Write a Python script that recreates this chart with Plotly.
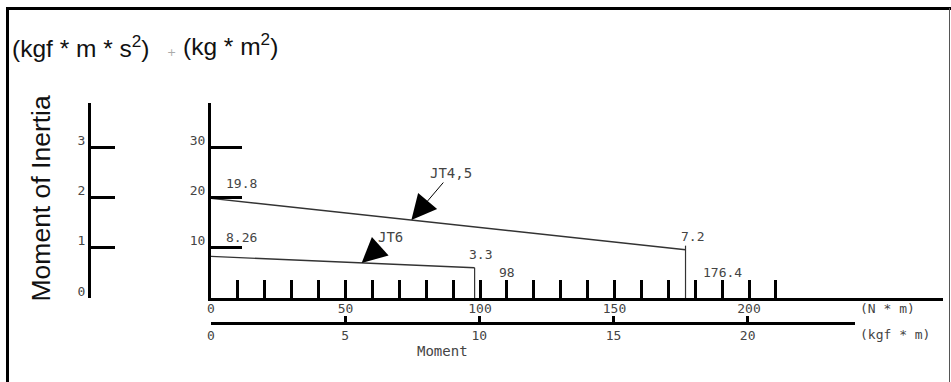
import numpy as np
import plotly.graph_objects as go

# ---------------- data ----------------
jt45_torque = [0, 176.4]          # N*m
jt45_inertia = [19.8, 9.6]        # kg*m^2 (as drawn)
jt45_labels = ["19.8", "7.2"]
jt6_torque = [0, 98]
jt6_inertia = [8.26, 6.0]
jt6_labels = ["8.26", "3.3"]
series_names = ["JT4,5", "JT6"]

nm_major_vals = [0, 50, 100, 150, 200]
nm_major_text = ["0", "50", "100", "150", "200"]
nm_minor_vals = [v for v in range(10, 220, 10) if v % 50 != 0]
kgf_major_vals = [0, 5, 10, 15, 20]
kgf_major_text = ["0", "5", "10", "15", "20"]
kgf_end = 24
si_tick_vals = [10, 20, 30]
si_tick_text = ["10", "20", "30"]
gu_tick_vals = [0, 1, 2, 3]
gu_tick_text = ["0", "1", "2", "3"]

# ---------------- layout geometry ----------------
W, H = 951, 382
L, R, T, B = 89, 8, 103, 59
PW, PH = W - L - R, H - T - B


def px_x(p):
    return (p - L) / PW


def px_y(p):
    return 1 - (p - T) / PH


XD0 = px_x(211)
XD2 = px_x(855)
YD0 = px_y(298)
X_MAX = (943 - 211) / 2.69
Y_MAX = (298 - 103) / (151 / 30)

TICKFONT = dict(family="DejaVu Sans Mono", size=13, color="#444")
LINE_C = "#333"

fig = go.Figure()

# data lines
fig.add_trace(go.Scatter(x=jt45_torque, y=jt45_inertia, mode="lines",
                         line=dict(color=LINE_C, width=1.4), cliponaxis=False,
                         name=series_names[0], hoverinfo="skip"))
fig.add_trace(go.Scatter(x=[jt45_torque[-1]] * 2, y=[0, jt45_inertia[-1] + 0.8], mode="lines",
                         line=dict(color=LINE_C, width=1.2), hoverinfo="skip"))
fig.add_trace(go.Scatter(x=jt6_torque, y=jt6_inertia, mode="lines",
                         line=dict(color=LINE_C, width=1.4), cliponaxis=False,
                         name=series_names[1], hoverinfo="skip"))
fig.add_trace(go.Scatter(x=[jt6_torque[-1]] * 2, y=[0, jt6_inertia[-1]], mode="lines",
                         line=dict(color=LINE_C, width=1.2), hoverinfo="skip"))
# helper traces to activate the secondary axes
fig.add_trace(go.Scatter(x=[0], y=[0], xaxis="x2", yaxis="y", mode="markers",
                         marker=dict(opacity=0), hoverinfo="skip"))
fig.add_trace(go.Scatter(x=[0], y=[0], xaxis="x", yaxis="y2", mode="markers",
                         marker=dict(opacity=0), hoverinfo="skip"))

axis_common = dict(showgrid=False, zeroline=False, showline=True, linecolor="black",
                   linewidth=3, ticks="inside", tickcolor="black", tickfont=TICKFONT,
                   fixedrange=True, automargin=False)

fig.update_layout(
    width=W, height=H,
    margin=dict(l=L, r=R, t=T, b=B, pad=0),
    paper_bgcolor="white", plot_bgcolor="rgba(0,0,0,0)",
    showlegend=False,
    xaxis=dict(axis_common, domain=[XD0, 1], range=[0, X_MAX], anchor="y",
               tickmode="array", tickvals=nm_major_vals, ticktext=nm_major_text,
               ticklen=18, tickwidth=3, ticklabelstandoff=-4,
               minor=dict(tickmode="array", tickvals=nm_minor_vals, ticks="inside",
                          ticklen=18, tickwidth=3, tickcolor="black")),
    xaxis2=dict(axis_common, domain=[XD0, XD2], range=[0, kgf_end], anchor="free", position=0,
                tickmode="array", tickvals=kgf_major_vals, ticktext=kgf_major_text,
                ticklen=6, tickwidth=3, ticklabelstandoff=-1,
                minor=dict(tickmode="array", tickvals=[kgf_end], ticks="inside",
                           ticklen=6, tickwidth=3, tickcolor="black")),
    yaxis=dict(axis_common, domain=[YD0, 1], range=[0, Y_MAX], anchor="x",
               tickmode="array", tickvals=si_tick_vals, ticktext=si_tick_text,
               ticklen=31, tickwidth=3, ticklabelshift=-7),
    yaxis2=dict(axis_common, range=[0, Y_MAX / 10], overlaying="y", anchor="free",
                position=0, side="left",
                tickmode="array", tickvals=gu_tick_vals, ticktext=gu_tick_text,
                ticklen=24, tickwidth=3, ticklabelshift=-7),
)

ann = []
# value labels
ann.append(dict(x=jt45_torque[0], y=jt45_inertia[0], xref="x", yref="y", text=jt45_labels[0],
                xanchor="left", xshift=13, yshift=15, showarrow=False, font=TICKFONT))
ann.append(dict(x=jt6_torque[0], y=jt6_inertia[0], xref="x", yref="y", text=jt6_labels[0],
                xanchor="left", xshift=13, yshift=19, showarrow=False, font=TICKFONT))
ann.append(dict(x=jt6_torque[-1], y=jt6_inertia[-1], xref="x", yref="y", text=jt6_labels[-1],
                xanchor="center", xshift=6, yshift=13, showarrow=False, font=TICKFONT))
ann.append(dict(x=jt45_torque[-1], y=jt45_inertia[-1], xref="x", yref="y", text=jt45_labels[-1],
                xanchor="center", xshift=7, yshift=13, showarrow=False, font=TICKFONT))
ann.append(dict(x=jt6_torque[-1], y=0, xref="x", yref="y", text=f"{jt6_torque[-1]:g}",
                xanchor="center", xshift=32, yshift=26, showarrow=False, font=TICKFONT))
ann.append(dict(x=jt45_torque[-1], y=0, xref="x", yref="y", text=f"{jt45_torque[-1]:g}",
                xanchor="center", xshift=37, yshift=26, showarrow=False, font=TICKFONT))

# arrow callouts
for name, xs, ys, at, ax, ay in [(series_names[0], jt45_torque, jt45_inertia, 74.5, 40, -47),
                                 (series_names[1], jt6_torque, jt6_inertia, 56.0, 29, -26)]:
    ann.append(dict(x=at, y=float(np.interp(at, xs, ys)), xref="x", yref="y", text=name,
                    showarrow=True, arrowhead=2, arrowsize=5, arrowwidth=1,
                    arrowcolor="black", ax=ax, ay=ay, font=dict(TICKFONT, size=14)))

# unit labels and titles
ann.append(dict(x=px_x(858), y=px_y(308), xref="paper", yref="paper", text="(N * m)",
                xanchor="left", yanchor="middle", showarrow=False, font=TICKFONT))
ann.append(dict(x=px_x(858), y=px_y(334), xref="paper", yref="paper", text="(kgf * m)",
                xanchor="left", yanchor="middle", showarrow=False, font=TICKFONT))
ann.append(dict(x=px_x(442), y=px_y(351), xref="paper", yref="paper", text="Moment",
                xanchor="center", yanchor="middle", showarrow=False,
                font=dict(TICKFONT, size=14)))
ann.append(dict(x=px_x(40), y=px_y(198.5), xref="paper", yref="paper", text="Moment of Inertia",
                textangle=-90, xanchor="center", yanchor="middle", showarrow=False,
                font=dict(family="Liberation Sans", size=26.5, color="#111")))
ann.append(dict(x=px_x(10), y=px_y(46), xref="paper", yref="paper",
                text="(kgf * m * s<sup>2</sup>)", xanchor="left", yanchor="middle",
                showarrow=False, font=dict(family="Liberation Sans", size=24.5, color="#111")))
ann.append(dict(x=px_x(171), y=px_y(53), xref="paper", yref="paper", text="+",
                xanchor="center", yanchor="middle", showarrow=False,
                font=dict(family="DejaVu Sans", size=11, color="#aaa")))
ann.append(dict(x=px_x(181), y=px_y(45), xref="paper", yref="paper",
                text="(kg * m<sup>2</sup>)", xanchor="left", yanchor="middle",
                showarrow=False, font=dict(family="Liberation Sans", size=24.5, color="#111")))
fig.update_layout(annotations=ann)

# picture frame
shapes = [
    dict(type="line", xref="paper", yref="paper", x0=px_x(7.5), x1=px_x(7.5),
         y0=px_y(7), y1=px_y(382), line=dict(color="black", width=3)),
    dict(type="line", xref="paper", yref="paper", x0=px_x(6), x1=px_x(951),
         y0=px_y(8.5), y1=px_y(8.5), line=dict(color="black", width=3)),
    dict(type="line", xref="paper", yref="paper", x0=px_x(949.5), x1=px_x(949.5),
         y0=px_y(8), y1=px_y(382), line=dict(color="#555", width=1)),
]
fig.update_layout(shapes=shapes)

fig.write_html("out.html", config=dict(displayModeBar=False),
               post_script="document.body.style.margin='0';document.body.style.overflow='hidden';")
